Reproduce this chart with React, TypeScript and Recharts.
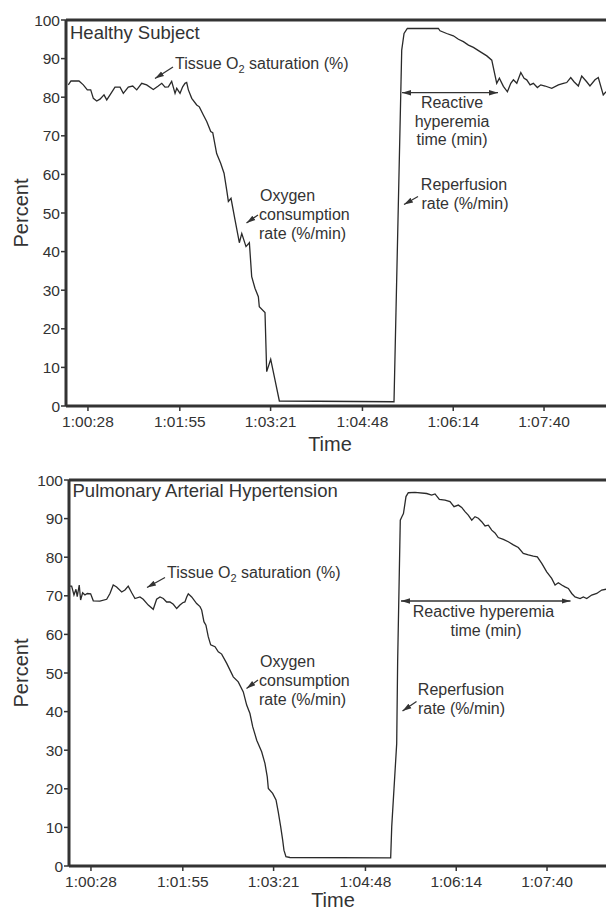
import { LineChart, Line, XAxis, YAxis, ReferenceLine } from "recharts";

// time axis in seconds after 1:00:00
const tickSeconds = [28, 115, 201, 288, 374, 460];
const tickLabels = ["1:00:28", "1:01:55", "1:03:21", "1:04:48", "1:06:14", "1:07:40"];
const percentTicks = [0, 10, 20, 30, 40, 50, 60, 70, 80, 90, 100];

const healthyTime = [
  9.4, 11.9, 19.5, 23.6, 27.4, 30.6, 33.1, 36.3, 39.4, 43.2, 45.8, 48.9, 53.6, 58.4,
  61.5, 66.2, 70.4, 74.2, 78.9, 83.6, 89.9, 94.6, 97.9, 101, 104.1, 107.3, 110.5,
  112.1, 115.2, 117.7, 119.9, 121.5, 123.1, 126.3, 131, 133.5, 137.3, 140.5, 144.3,
  146.2, 149.9, 153.7, 156.9, 159.4, 161, 163.5, 167.3, 171.4, 173.7, 177.7, 180.9,
  183.1, 186.2, 189.4, 190.3, 195.7, 197.3, 201.1, 205.2, 209.3, 317.9, 325.2, 327.4,
  330.5, 359.9, 361.5, 367.8, 374.1, 378.9, 383.6, 388.4, 393.1, 399.4, 405.8, 410.5,
  415.2, 417.7, 421.5, 425.3, 428.5, 431, 434.2, 438, 441.1, 443.6, 446.8, 449.9,
  453.7, 456.9, 461, 467.3, 473.6, 478.3, 481.5, 485.3, 488.4, 492.5, 495.7, 500.4,
  503.5, 508.3, 511.4, 516.1, 518.7,
];
const healthyO2 = [
  83.2, 84.2, 84.2, 83.2, 81.9, 81.9, 79.7, 79.0, 79.5, 80.6, 79.3, 80.6, 82.6, 82.6,
  81.0, 82.6, 82.9, 81.9, 83.6, 83.2, 82.0, 82.9, 83.6, 82.6, 82.7, 84.1, 81.0,
  82.3, 81.0, 82.7, 83.6, 83.8, 81.9, 79.7, 78.0, 77.5, 75.4, 73.7, 71.1,
  70.8, 65.4, 62.9, 60.3, 56.0, 53.0, 53.8, 48.2, 42.3, 44.7, 41.3, 42.3,
  33.5, 30.5, 28.3, 25.7, 24.2, 8.9, 12.1, 6.7, 1.3, 1.1, 92.2, 96.5,
  97.8, 97.8, 97.2, 96.5, 95.9, 95.0, 94.4, 93.5, 92.9, 91.8, 90.7, 89.6,
  83.6, 84.9, 82.8, 81.4, 83.6, 84.5, 83.6, 86.4, 84.9, 84.5, 83.2, 83.6,
  82.5, 83.2, 82.9, 82.3, 83.2, 83.6, 83.8, 85.1, 84.0, 82.9, 85.5, 84.0,
  82.9, 84.5, 85.1, 80.6, 81.4,
];

const pahTime = [
  7.4, 9.7, 11.9, 13.8, 15.0, 16.9, 18.2, 20.1, 22.3, 24.5, 27.7, 30.2, 36.5, 42.9,
  46.0, 49.1, 52.3, 57.1, 60.2, 63.3, 66.6, 69.7, 74.4, 77.5, 82.3, 87.0, 90.2, 93.4,
  96.5, 99.7, 102.8, 106.0, 109.2, 112.3, 114.9, 117.0, 118.7, 120.2, 123.4, 128.1,
  131.3, 132.9, 135.0, 136.9, 139.1, 141.4, 145.5, 148.6, 151.8, 156.6, 162.8, 167.5,
  172.3, 175.5, 178.6, 181.2, 185.0, 189.7, 192.8, 195.0, 196.0, 200.1, 203.3, 205.4,
  207.7, 209.6, 210.8, 212.7, 216.5, 311.9, 312.9, 317.6, 318.5, 321.0, 322.5, 324.0,
  326.4, 328.6, 334.9, 346.0, 350.7, 353.9, 358.0, 363.4, 368.1, 371.9, 376.0, 379.2,
  382.3, 385.4, 388.7, 391.8, 394.9, 398.1, 401.3, 404.4, 407.6, 410.7, 413.8, 418.6,
  423.3, 428.1, 432.8, 437.5, 442.3, 447.0, 450.8, 455.0, 459.7, 464.4, 467.6, 470.7,
  473.9, 477.0, 480.2, 483.4, 486.5, 491.3, 494.4, 497.6, 502.3, 507.1, 511.8, 515.9,
];
const pahO2 = [
  72.5, 72.5, 70.2, 71.7, 69.8, 72.8, 68.9, 70.8, 70.2, 70.6, 70.5, 68.7, 68.6, 69.1,
  70.6, 72.8, 72.3, 71.0, 71.5, 72.5, 70.8, 69.3, 69.7, 69.1, 67.6, 66.5, 69.1, 69.7,
  69.3, 68.4, 68.4, 67.8, 66.7, 67.6, 68.2, 68.4, 69.7, 70.5, 69.7, 68.0,
  67.2, 66.3, 63.3, 62.4, 59.4, 57.3, 56.8, 55.5, 54.9, 52.5, 49.0, 47.7,
  45.1, 41.7, 39.5, 36.1, 32.6, 29.6, 26.6, 23.1, 20.1, 18.8, 17.1, 14.0,
  10.2, 6.7, 4.1, 2.4, 2.2, 2.1, 10.2, 31.7, 53.0, 89.6, 90.5, 91.3,
  95.7, 96.7, 96.8, 96.5, 96.1, 96.4, 95.0, 94.8, 94.4, 93.1, 93.5, 92.9,
  91.8, 90.9, 89.6, 90.5, 90.1, 89.2, 88.1, 88.3, 87.0, 86.3, 85.1, 84.6,
  84.0, 83.2, 82.5, 81.0, 80.6, 80.3, 80.1, 78.4, 76.2, 74.5, 72.8, 73.4,
  72.8, 72.3, 71.9, 70.6, 69.7, 69.3, 69.7, 69.3, 70.2, 70.6, 71.5, 71.7,
];

const INK = "#333";
const FONT = "'Liberation Sans', Arial, sans-serif";

function Panel({ time, values, width, yWidth, top, xHeight }: {
  time: number[]; values: number[]; width: number; yWidth: number; top: number; xHeight: number;
}) {
  const data = time.map((t, i) => ({ t, v: values[i] }));
  return (
    <LineChart width={width} height={456} data={data}
      margin={{ top, right: 0, bottom: 0, left: 0 }}>
      <XAxis
        dataKey="t" type="number" domain={[7.2, 518.7]} ticks={tickSeconds}
        tickFormatter={(s: number) => tickLabels[tickSeconds.indexOf(s)] ?? ""}
        height={xHeight} tickSize={5} tickMargin={5}
        axisLine={{ stroke: INK, strokeWidth: 3 }} tickLine={{ stroke: INK, strokeWidth: 1.5 }}
        tick={{ fontSize: 15.5, fill: INK, fontFamily: FONT }}
        label={{ value: "Time", position: "insideBottom", offset: 5, dx: -6, fontSize: 20, fill: INK, fontFamily: FONT }}
      />
      <YAxis
        type="number" domain={[0, 100]} ticks={percentTicks} width={yWidth}
        tickSize={5} tickMargin={1}
        axisLine={{ stroke: INK, strokeWidth: 3 }} tickLine={{ stroke: INK, strokeWidth: 1.5 }}
        tick={{ fontSize: 15.5, fill: INK, fontFamily: FONT }}
        label={{ value: "Percent", angle: -90, position: "insideLeft", offset: 21,
          style: { textAnchor: "middle" }, fontSize: 20, fill: INK, fontFamily: FONT }}
      />
      <ReferenceLine y={100} stroke={INK} strokeWidth={3} />
      <Line dataKey="v" type="linear" stroke="#2a2a2a" strokeWidth={1.3} dot={false}
        isAnimationActive={false} />
    </LineChart>
  );
}

function Arrow({ x1, y1, x2, y2, both }: { x1: number; y1: number; x2: number; y2: number; both?: boolean }) {
  return (
    <line x1={x1} y1={y1} x2={x2} y2={y2} stroke={INK} strokeWidth={1.3}
      markerEnd="url(#head)" markerStart={both ? "url(#head)" : undefined} />
  );
}

function O2Label({ x, y }: { x: number; y: number }) {
  return (
    <text x={x} y={y} fontSize={16} fill={INK}>
      Tissue O<tspan fontSize={11} dy={4}>2</tspan><tspan dy={-4}> saturation (%)</tspan>
    </text>
  );
}

function Notes() {
  return (
    <svg width={606} height={912} style={{ position: "absolute", left: 0, top: 0, pointerEvents: "none" }}
      fontFamily={FONT}>
      <defs>
        <marker id="head" viewBox="0 0 10 10" refX="10" refY="5" markerWidth="9" markerHeight="9"
          markerUnits="userSpaceOnUse" orient="auto-start-reverse">
          <path d="M0,2 L10,5 L0,8 z" fill={INK} />
        </marker>
      </defs>

      {/* healthy subject */}
      <text x={70} y={39} fontSize={18.5} fill={INK}>Healthy Subject</text>
      <O2Label x={175} y={68.5} />
      <Arrow x1={173} y1={67} x2={155} y2={78.5} />
      <text fontSize={16} fill={INK}>
        <tspan x={260} y={201}>Oxygen</tspan>
        <tspan x={259} y={220}>consumption</tspan>
        <tspan x={259} y={239}>rate (%/min)</tspan>
      </text>
      <Arrow x1={258} y1={215} x2={246.5} y2={223} />
      <text fontSize={16} fill={INK} textAnchor="middle">
        <tspan x={464} y={189.5}>Reperfusion</tspan>
        <tspan x={465} y={208.5}>rate (%/min)</tspan>
      </text>
      <Arrow x1={418} y1={196.5} x2={404} y2={204.5} />
      <Arrow x1={402} y1={92.7} x2={498} y2={92.7} both />
      <text fontSize={16} fill={INK} textAnchor="middle">
        <tspan x={452} y={108}>Reactive</tspan>
        <tspan x={452} y={126.5}>hyperemia</tspan>
        <tspan x={452} y={145}>time (min)</tspan>
      </text>

      {/* pulmonary arterial hypertension */}
      <text x={72.5} y={497} fontSize={18.5} fill={INK}>Pulmonary Arterial Hypertension</text>
      <O2Label x={167} y={578} />
      <Arrow x1={165} y1={577.5} x2={147} y2={587.5} />
      <text fontSize={16} fill={INK}>
        <tspan x={260} y={667}>Oxygen</tspan>
        <tspan x={259} y={686}>consumption</tspan>
        <tspan x={259} y={705}>rate (%/min)</tspan>
      </text>
      <Arrow x1={258} y1={680} x2={246.5} y2={688.5} />
      <text fontSize={16} fill={INK} textAnchor="middle">
        <tspan x={461} y={695}>Reperfusion</tspan>
        <tspan x={461.5} y={714}>rate (%/min)</tspan>
      </text>
      <Arrow x1={416.5} y1={701.5} x2={402.5} y2={711} />
      <Arrow x1={401} y1={601} x2={570.5} y2={601} both />
      <text fontSize={16} fill={INK} textAnchor="middle">
        <tspan x={483.5} y={617}>Reactive hyperemia</tspan>
        <tspan x={486} y={635.5}>time (min)</tspan>
      </text>
    </svg>
  );
}

export default function App() {
  return (
    <div style={{ position: "fixed", left: 0, top: 0, width: 606, height: 912, overflow: "hidden",
      background: "#fff", fontFamily: FONT }}>
      <div style={{ position: "absolute", left: 0, top: 0 }}>
        <Panel time={healthyTime} values={healthyO2} width={606} yWidth={66} top={20} xHeight={50} />
      </div>
      <div style={{ position: "absolute", left: 0, top: 456 }}>
        <Panel time={pahTime} values={pahO2} width={609} yWidth={69} top={24} xHeight={46} />
      </div>
      <Notes />
    </div>
  );
}
